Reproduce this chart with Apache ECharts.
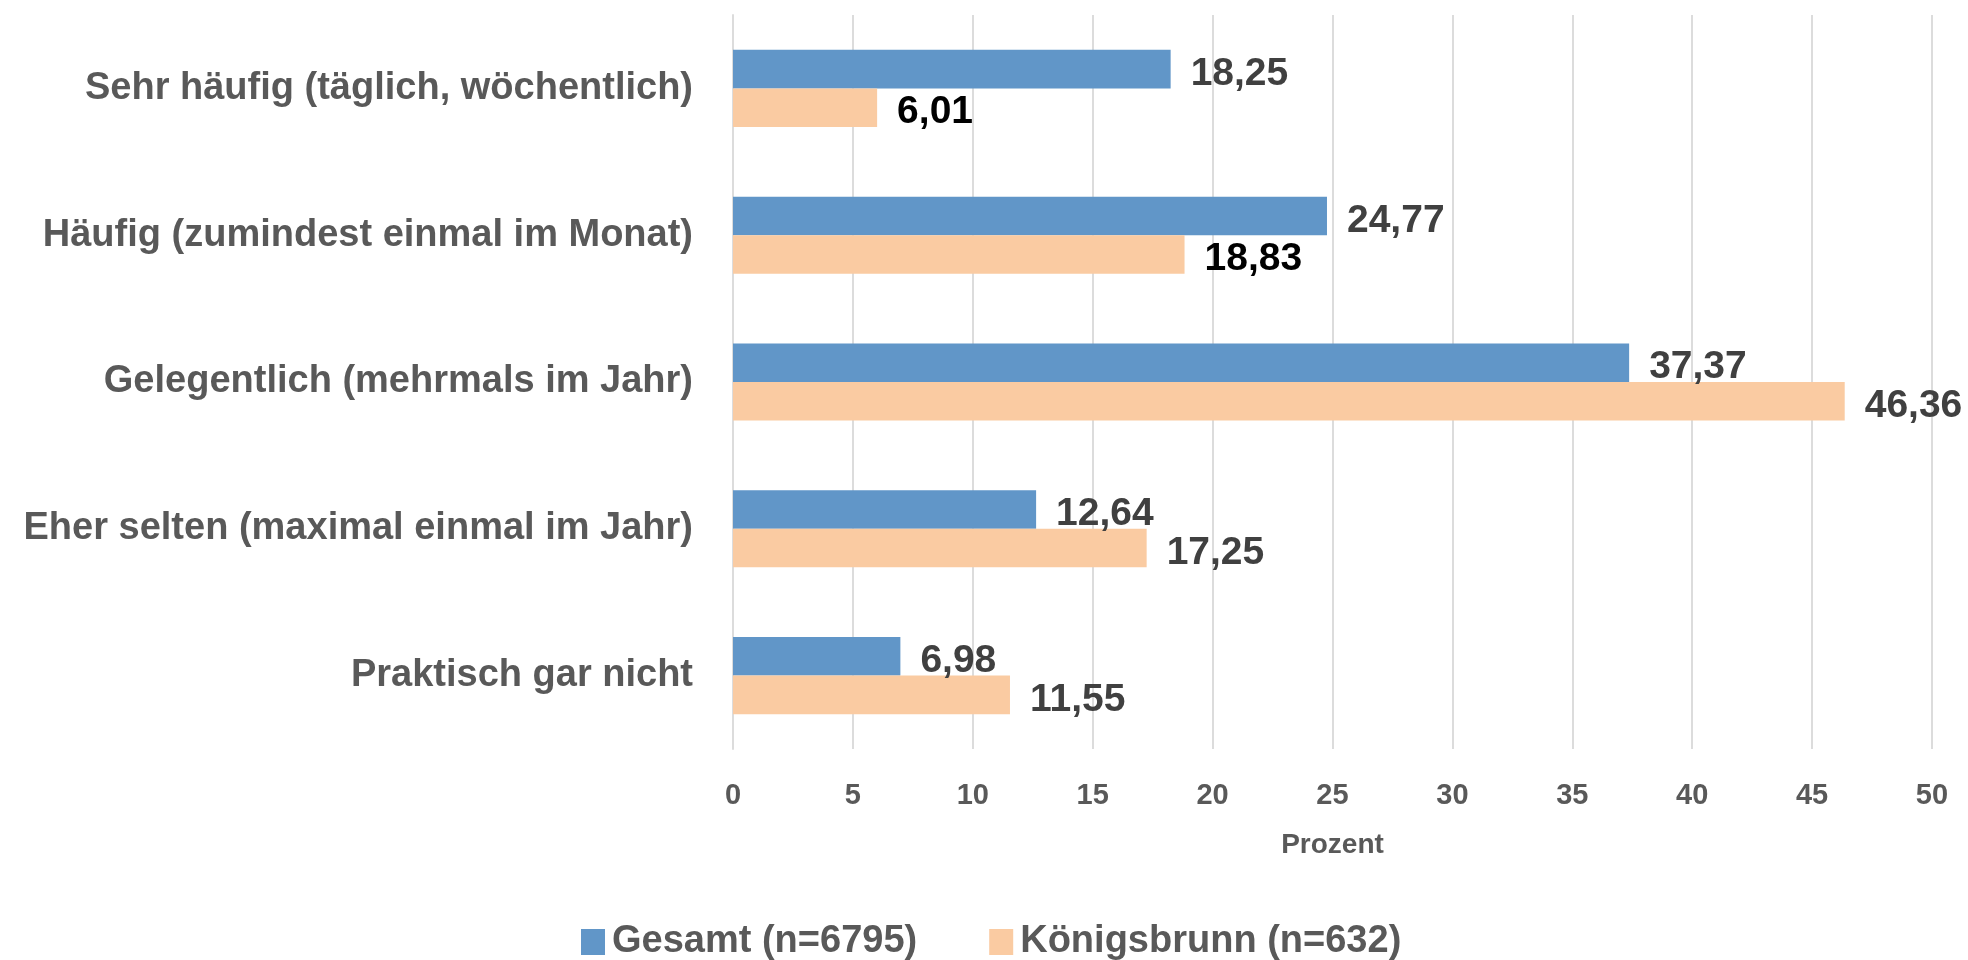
<!DOCTYPE html>
<html>
<head>
<meta charset="utf-8">
<script src="https://cdn.jsdelivr.net/npm/echarts@6/dist/echarts.min.js"></script>
<style>html,body{margin:0;padding:0;background:#fff}#c{width:1968px;height:960px}</style>
</head>
<body>
<div id="c"></div>
<script>
const categories = [
  'Sehr häufig (täglich, wöchentlich)',
  'Häufig (zumindest einmal im Monat)',
  'Gelegentlich (mehrmals im Jahr)',
  'Eher selten (maximal einmal im Jahr)',
  'Praktisch gar nicht'
];
const seriesNames = ['Gesamt (n=6795)', 'Königsbrunn (n=632)'];
const gesamt = [18.25, 24.77, 37.37, 12.64, 6.98];
const koenigsbrunn = [6.01, 18.83, 46.36, 17.25, 11.55];
const xTicks = { min: 0, max: 50, interval: 5 };
const axisTitle = 'Prozent';

const FONT = '"Liberation Sans", Arial, sans-serif';
const fmt = p => p.value.toFixed(2).replace('.', ',');
const blackIdx = [0, 1];

const chart = echarts.init(document.getElementById('c'), null, { renderer: 'canvas' });
chart.setOption({
  animation: false,
  textStyle: { fontFamily: FONT },
  grid: { left: 733, right: 36, top: 15, bottom: 211, containLabel: false },
  legend: {
    data: seriesNames,
    left: 576,
    top: 918,
    itemWidth: 24,
    itemHeight: 26,
    itemGap: 72,
    icon: 'rect',
    textStyle: { fontSize: 38, fontWeight: 'bold', color: '#595959', fontFamily: FONT, padding: [0, 0, 0, 2] }
  },
  xAxis: {
    type: 'value',
    min: xTicks.min, max: xTicks.max, interval: xTicks.interval,
    name: axisTitle,
    nameLocation: 'middle',
    nameGap: 82,
    nameTextStyle: { fontSize: 28, fontWeight: 'bold', color: '#595959', fontFamily: FONT },
    axisLine: { show: false },
    axisTick: { show: false },
    axisLabel: { fontSize: 29, fontWeight: 'bold', color: '#595959', margin: 32, fontFamily: FONT },
    splitLine: { show: true, lineStyle: { color: '#DCDCDC', width: 2 } }
  },
  yAxis: {
    type: 'category',
    data: categories,
    inverse: true,
    axisLine: { show: true, lineStyle: { color: '#DCDCDC', width: 2 } },
    axisTick: { show: false },
    axisLabel: { fontSize: 38, fontWeight: 'bold', color: '#595959', margin: 40, fontFamily: FONT }
  },
  series: [
    {
      name: seriesNames[0],
      type: 'bar',
      data: gesamt,
      itemStyle: { color: '#6196C8' },
      barGap: '0%',
      barCategoryGap: '47.5%',
      label: { show: true, position: 'right', distance: 20, offset: [0, 5], formatter: fmt,
        fontSize: 39, fontWeight: 'bold', color: '#404040', fontFamily: FONT }
    },
    {
      name: seriesNames[1],
      type: 'bar',
      data: koenigsbrunn.map((v, i) => blackIdx.includes(i) ? { value: v, label: { color: '#000000' } } : v),
      itemStyle: { color: '#FACBA2' },
      barGap: '0%',
      barCategoryGap: '47.5%',
      label: { show: true, position: 'right', distance: 20, offset: [0, 5], formatter: fmt,
        fontSize: 39, fontWeight: 'bold', color: '#404040', fontFamily: FONT }
    }
  ]
});
</script>
</body>
</html>
